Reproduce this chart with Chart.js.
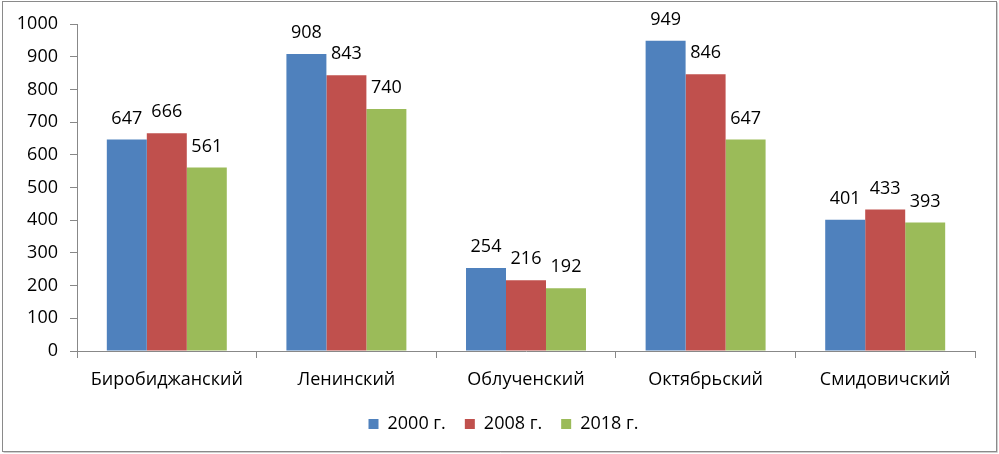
<!DOCTYPE html>
<html><head><meta charset="utf-8">
<script src="https://cdn.jsdelivr.net/npm/chart.js@4"></script>
<style>html,body{margin:0;padding:0;background:#fff}#wrap{width:999px;height:454px;position:relative}</style>
</head><body><div id="wrap"><canvas id="c" width="999" height="454"></canvas></div>
<script>
const categories = ["Биробиджанский","Ленинский","Облученский","Октябрьский","Смидовичский"];
const seriesNames = ["2000 г.","2008 г.","2018 г."];
const values2000 = [647, 908, 254, 949, 401];
const values2008 = [666, 843, 216, 846, 433];
const values2018 = [561, 740, 192, 647, 393];
const yTicks = [0,100,200,300,400,500,600,700,800,900,1000];
const colors = ["#4F81BD","#C0504D","#9BBB59"];
const FONT = "'Open Sans', sans-serif";

const labelPlugin = {
  id:'labels',
  afterDatasetsDraw(chart){
    const ctx = chart.ctx;
    ctx.save();
    ctx.font = "18px " + FONT;
    ctx.fillStyle = "#000";
    ctx.textAlign = "center";
    ctx.textBaseline = "middle";
    chart.data.datasets.forEach((ds,i)=>{
      chart.getDatasetMeta(i).data.forEach((bar,j)=>{
        ctx.fillText(String(ds.data[j]), bar.x, bar.y - 21);
      });
    });
    ctx.restore();
  }
};
const legendShift = {
  id:'legendShift',
  afterLayout(chart){
    if (chart.legend) { chart.legend.left += 11; chart.legend.right += 11; }
  }
};
const framePlugin = {
  id:'frame',
  afterDraw(chart){
    const ctx = chart.ctx;
    ctx.save();
    ctx.strokeStyle = "#8a8a8a";
    ctx.lineWidth = 1;
    ctx.strokeRect(2.5, 1.5, 994, 450);
    ctx.strokeStyle = "#d0d0d0";
    ctx.beginPath();
    ctx.moveTo(3.5, 452.5); ctx.lineTo(997.5, 452.5); ctx.lineTo(997.5, 2.5);
    ctx.stroke();
    ctx.restore();
  }
};

new Chart(document.getElementById('c'), {
  type:'bar',
  data:{
    labels: categories,
    datasets:[
      {label:seriesNames[0], data:values2000, backgroundColor:colors[0]},
      {label:seriesNames[1], data:values2008, backgroundColor:colors[1]},
      {label:seriesNames[2], data:values2018, backgroundColor:colors[2]}
    ]
  },
  options:{
    responsive:false, animation:false,
    layout:{padding:{top:24,left:10,right:24,bottom:11}},
    datasets:{bar:{categoryPercentage:0.668, barPercentage:1}},
    scales:{
      y:{
        min:0, max:1000,
        afterBuildTicks(s){ s.ticks = yTicks.map(v=>({value:v})); },
        afterFit(s){ s.width = 67; },
        border:{color:"#888", width:1},
        grid:{drawOnChartArea:false, tickLength:7, color:"#888"},
        ticks:{padding:12, color:"#000", font:{size:18, family:FONT}, callback:(v)=>String(v)}
      },
      x:{
        afterFit(s){ s.height = 45; },
        border:{color:"#888", width:1},
        grid:{drawOnChartArea:false, offset:true, tickLength:7, color:"#888"},
        ticks:{padding:11, color:"#000", font:{size:18, family:FONT}}
      }
    },
    plugins:{
      legend:{position:'bottom', labels:{boxWidth:10, boxHeight:10, padding:19, color:"#000", font:{size:18, family:FONT}}},
      tooltip:{enabled:false}
    }
  },
  plugins:[labelPlugin, legendShift, framePlugin]
});
</script></body></html>
